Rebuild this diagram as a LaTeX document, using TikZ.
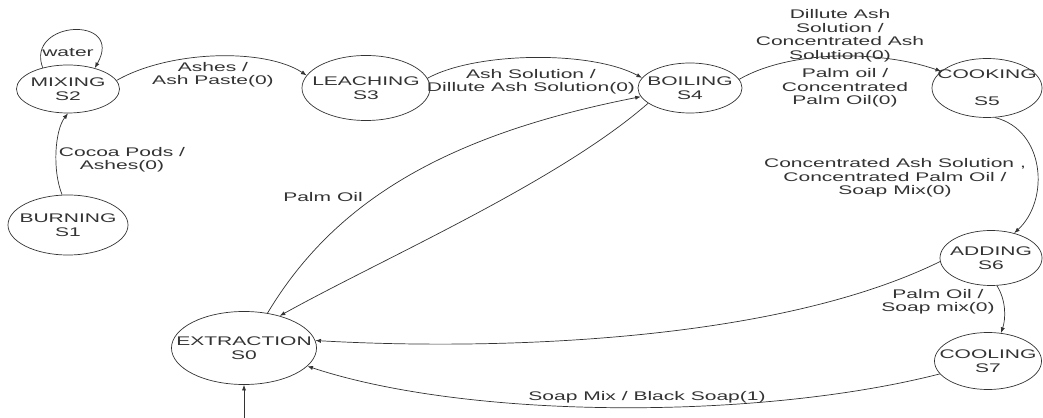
\documentclass[tikz,border=0pt]{standalone}
\usepackage{fontspec}
\setmainfont{Liberation Sans}[FakeStretch=1.68]
\usetikzlibrary{shapes.geometric,arrows.meta}
\newcommand{\stname}[2]{\makebox[0pt]{#1}\\\makebox[0pt]{#2}}
\tikzset{
  stnode/.style={draw, ellipse, inner sep=0pt, align=center},
  lbl/.style={align=center, inner sep=0pt},
  tr/.style={-{Latex[length=4pt,width=3pt]}},
}

\begin{document}
\begin{tikzpicture}[x=0.025cm, y=-0.025cm, line width=0.5pt, color=black!80, font=\fontsize{8.9pt}{9.6pt}\selectfont]
\useasboundingbox (0,0) rectangle (1043,418);
\node[stnode, minimum width=2.575cm, minimum height=1.2cm] (mixing) at (68,89) {\stname{MIXING}{S2}};
\node[stnode, minimum width=3cm, minimum height=1.5cm] (burning) at (68,225) {\stname{BURNING}{S1}};
\node[stnode, minimum width=3.2cm, minimum height=1.625cm] (leaching) at (366,88) {\stname{LEACHING}{S3}};
\node[stnode, minimum width=2.6cm, minimum height=1.25cm] (boiling) at (690,88) {\stname{BOILING}{S4}};
\node[stnode, minimum width=2.75cm, minimum height=1.475cm] (cooking) at (987,88) {\makebox[0pt]{COOKING}\\[9.6pt]\makebox[0pt]{S5}};
\node[stnode, minimum width=2.55cm, minimum height=1.375cm] (adding) at (991,258) {\stname{ADDING}{S6}};
\node[stnode, minimum width=2.675cm, minimum height=1.425cm] (cooling) at (988,361) {\stname{COOLING}{S7}};
\node[stnode, minimum width=3.625cm, minimum height=1.825cm] (extraction) at (244,348) {\stname{EXTRACTION}{S0}};
\coordinate (start) at (244,418);
\node[lbl] (lwater) at (68,53) {water};
\node[lbl] (lcocoa) at (122,160) {Cocoa Pods /\\Ashes(0)};
\node[lbl] (lashes) at (213,75) {Ashes /\\Ash Paste(0)};
\node[lbl] (lash) at (531,82) {Ash Solution /\\Dillute Ash Solution(0)};
\node[lbl] (ldilute) at (840,36) {Dillute Ash\\Solution /\\Concentrated Ash\\Solution(0)};
\node[lbl] (lpalm) at (845,88) {Palm oil /\\Concentrated\\Palm Oil(0)};
\node[lbl] (lconc) at (895,178) {Concentrated Ash Solution ,\\Concentrated Palm Oil /\\Soap Mix(0)};
\node[lbl] (lsoap) at (938,302) {Palm Oil /\\Soap mix(0)};
\node[lbl] (lblack) at (647,397) {Soap Mix / Black Soap(1)};
\node[lbl] (loil) at (323,197) {Palm Oil};
\draw[tr] (burning.101) .. controls (52,170) and (55,130) .. (mixing.south);
\draw[tr] (mixing.140) .. controls (25,20) and (125,15) .. (mixing.38);
\draw[tr] (mixing.10) .. controls (170,50) and (265,48) .. (leaching.168);
\draw[tr] (leaching.9) .. controls (475,52) and (590,50) .. (boiling.168);
\draw[tr] (boiling.10) .. controls (790,50) and (880,50) .. (cooking.160);
\draw[tr] (cooking.285) .. controls (1045,130) and (1050,200) .. (adding.47);
\draw[tr] (adding.282) .. controls (1006,300) and (1006,318) .. (cooling.65);
\draw[tr] (adding.184) .. controls (770,345) and (480,350) .. (extraction.6);
\draw[tr] (cooling.195) .. controls (760,420) and (470,420) .. (extraction.344);
\draw[tr] (extraction.56) .. controls (334,202) and (445,135) .. (boiling.190);
\draw[tr] (boiling.200) .. controls (558,182) and (384,258) .. (extraction.42);
\draw[tr] (start) -- (extraction.south);
\end{tikzpicture}
\end{document}
